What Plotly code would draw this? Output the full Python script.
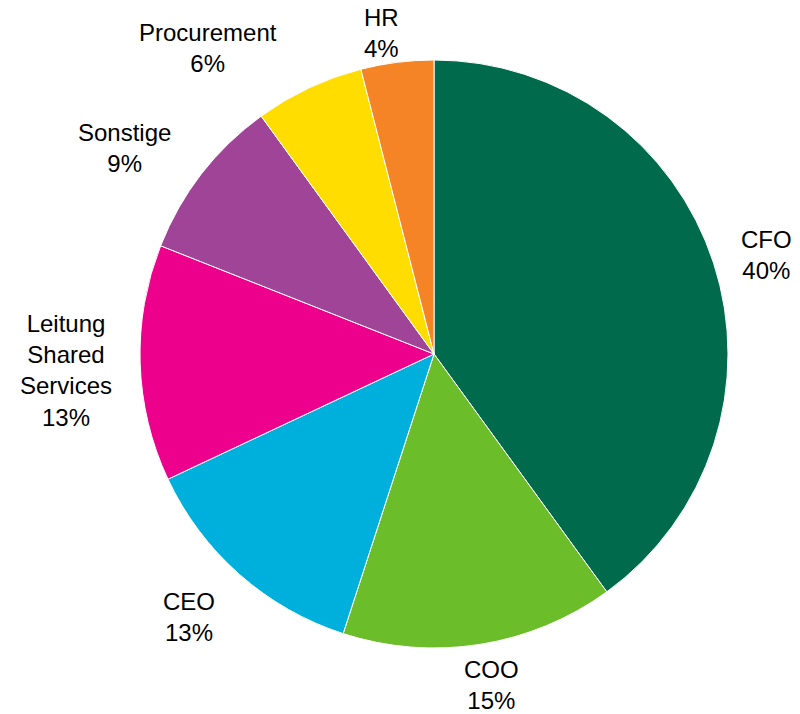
import plotly.graph_objects as go

# Slice data, clockwise from 12 o'clock
labels = ["CFO", "COO", "CEO", "Leitung<br>Shared<br>Services", "Sonstige", "Procurement", "HR"]
values = [40, 15, 13, 13, 9, 6, 4]
colors = ["#006B4C", "#6BBD2A", "#00B0DC", "#EC008C", "#A04497", "#FFDD00", "#F58426"]

# Label anchor points (paper pixels, centre of each text block)
label_px = [(766, 255), (491, 685), (189, 617), (66, 370), (124, 148), (208, 48), (381, 33)]

W, H = 800, 714
FONT = dict(family="Liberation Sans, Arial, sans-serif", size=24, color="black")

fig = go.Figure(
    go.Pie(
        labels=labels,
        values=values,
        sort=False,
        direction="clockwise",
        rotation=0,
        marker=dict(colors=colors, line=dict(color="white", width=1)),
        textinfo="none",
        showlegend=False,
        automargin=False,
        domain=dict(x=[0.175, 0.91], y=[0.0924, 0.916]),
        hoverinfo="label+percent",
    )
)

total = sum(values)
for lab, val, (px, py) in zip(labels, values, label_px):
    fig.add_annotation(
        x=px / W,
        y=1 - py / H,
        xref="paper",
        yref="paper",
        xanchor="center",
        yanchor="middle",
        text=f"{lab}<br>{round(100 * val / total)}%",
        showarrow=False,
        font=FONT,
        align="center",
    )

fig.update_layout(
    width=W,
    height=H,
    margin=dict(l=0, r=0, t=0, b=0),
    paper_bgcolor="white",
    plot_bgcolor="white",
)

fig.write_html("out.html")
